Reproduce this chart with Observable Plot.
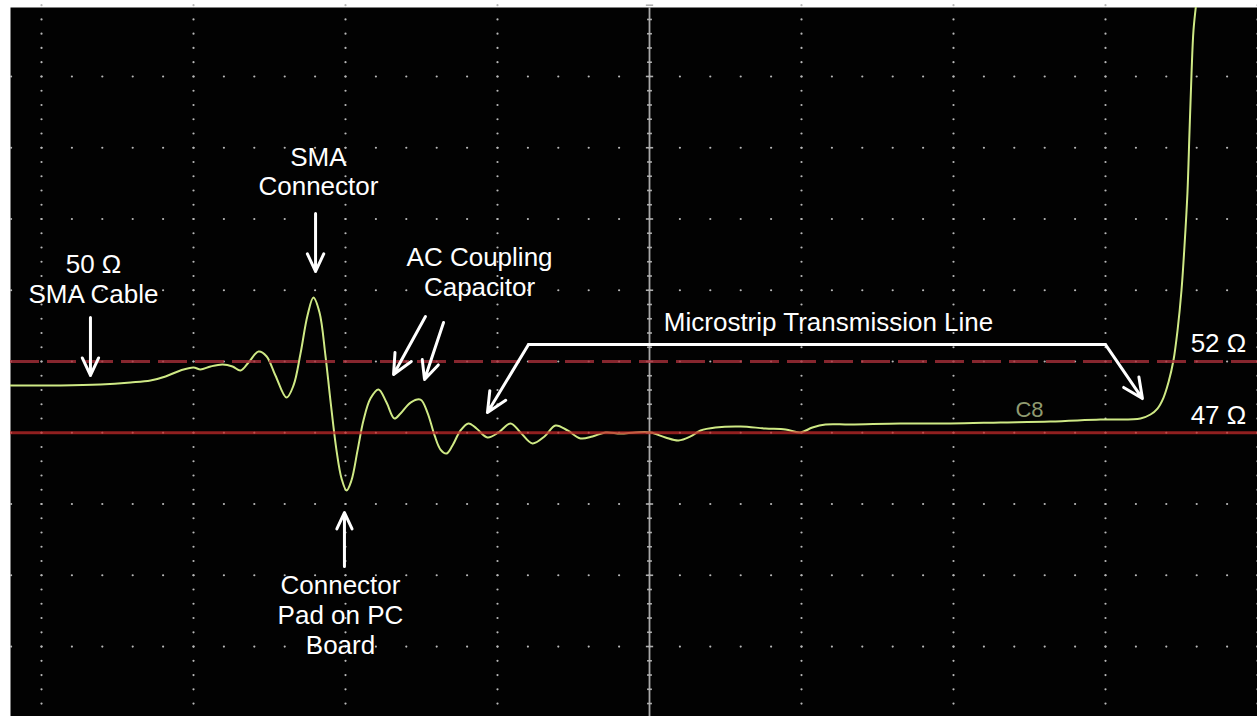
<!DOCTYPE html>
<html><head><meta charset="utf-8">
<script src="https://cdn.jsdelivr.net/npm/d3@7"></script>
<script src="https://cdn.jsdelivr.net/npm/@observablehq/plot@0.6"></script>
<style>html,body{margin:0;padding:0;background:#fff;} #chart svg{display:block;}</style>
</head><body><div id="chart"></div>
<script>
// TDR trace: time in screen divisions (0 = centre graticule), impedance in ohms
const traceTime = [-4.204,-3.875,-3.612,-3.414,-3.283,-3.184,-3.086,-3.0,-2.954,-2.888,-2.809,-2.743,-2.691,-2.638,-2.572,-2.520,-2.461,-2.388,-2.342,-2.296,-2.250,-2.211,-2.171,-2.132,-2.099,-2.059,-2.026,-1.993,-1.961,-1.921,-1.882,-1.836,-1.783,-1.730,-1.678,-1.638,-1.572,-1.507,-1.461,-1.414,-1.375,-1.336,-1.296,-1.243,-1.191,-1.138,-1.066,-0.993,-0.914,-0.849,-0.770,-0.691,-0.618,-0.539,-0.454,-0.375,-0.289,-0.191,-0.092,0.007,0.105,0.191,0.270,0.336,0.434,0.599,0.763,0.895,0.993,1.072,1.158,1.322,1.651,1.980,2.309,2.638,2.967,3.230,3.296,3.342,3.382,3.414,3.447,3.474,3.500,3.520,3.539,3.553,3.566,3.579,3.599];
const traceOhms = [50.32,50.32,50.39,50.53,50.67,50.95,51.37,51.58,51.44,51.65,51.79,51.65,51.37,51.93,52.70,52.37,51.02,49.47,50.32,52.56,55.23,56.49,55.44,52.42,49.26,45.75,43.79,42.95,43.65,45.75,47.86,49.40,50.04,49.12,48.00,48.35,49.12,49.33,48.42,46.81,45.82,45.54,46.11,47.16,47.65,47.30,46.67,47.02,47.65,47.02,46.25,46.74,47.51,47.16,46.60,46.74,47.02,46.95,47.02,47.02,46.67,46.46,46.74,47.16,47.37,47.44,47.30,47.23,47.02,47.37,47.58,47.58,47.65,47.65,47.72,47.79,47.93,48.00,48.28,48.70,49.47,50.53,52.07,54.19,57.00,60.16,63.81,68.23,72.23,75.25,77.3];

const cursorUpper = 52;   // dashed cursor
const cursorLower = 47;   // solid cursor

// annotation labels (anchored at baseline of last line, centred)
const labelText = ["SMA\nConnector", "50 Ω\nSMA Cable", "AC Coupling\nCapacitor", "Microstrip Transmission Line", "52 Ω", "47 Ω", "Connector\nPad on PC\nBoard"];
const labelTime = [-2.178, -3.658, -1.118, 1.178, 3.743, 3.743, -2.033];
const labelOhms = [63.65, 56.14, 56.63, 54.11, 52.70, 47.58, 31.51];

// arrows: start -> tip
const arrowT1 = [-2.197, -3.678, -1.474, -1.355, -2.007, -0.796, 3.000];
const arrowO1 = [62.39, 55.09, 55.16, 54.74, 37.61, 53.19, 53.19];
const arrowT2 = [-2.197, -3.678, -1.684, -1.480, -2.007, -1.066, 3.243];
const arrowO2 = [58.32, 51.02, 51.09, 50.74, 41.40, 48.42, 49.40];

// bracket bar over the microstrip section
const bracketTime = [-0.796, 3.000];
const bracketOhms = 53.19;

const channelLabel = "C8";
const channelTime = 2.50, channelOhms = 48.14;

const trace = traceTime.map((t, i) => ({t, z: traceOhms[i]}));
const labels = labelText.map((s, i) => ({s, t: labelTime[i], z: labelOhms[i]}));
const arrows = arrowT1.map((t, i) => ({t1: t, z1: arrowO1[i], t2: arrowT2[i], z2: arrowO2[i]}));

// graticule
const majorRows = d3.range(32, 73, 5);
const majorCols = d3.range(-4, 5);
const rowDots = majorRows.flatMap(z => d3.range(-21, 21).map(k => ({t: k / 5, z})));
const colDots = majorCols.filter(c => c !== 0).flatMap(t => d3.range(27, 78).map(z => ({t, z})));
const centreTicks = d3.range(27, 78).map(z => ({z, w: (z - 2) % 5 === 0 ? 0.024 : 0.016}));

const font = "'Liberation Sans', Arial, Helvetica, sans-serif";

const chart = Plot.plot({
  width: 1257, height: 716,
  marginLeft: 10, marginRight: 0, marginTop: 7, marginBottom: 0,
  x: {domain: [-4.204, 4.0], axis: null},
  y: {domain: [27.09, 76.84], axis: null},
  style: {background: "#fff", fontFamily: font},
  marks: [
    Plot.frame({fill: "#020202", stroke: "none"}),
    Plot.dot(rowDots, {x: "t", y: "z", r: 1.1, fill: "#b8b8b8", stroke: "none"}),
    Plot.dot(colDots, {x: "t", y: "z", r: 1.1, fill: "#b8b8b8", stroke: "none"}),
    Plot.ruleX([0], {stroke: "#a8a8a8", strokeWidth: 1.8}),
    Plot.link(centreTicks, {x1: d => -d.w, x2: d => d.w, y1: "z", y2: "z", stroke: "#b0b0b0", strokeWidth: 1.6}),
    Plot.line(trace, {x: "t", y: "z", curve: "catmull-rom", stroke: "#cfe985", strokeWidth: 2, clip: true}),
    Plot.ruleY([cursorUpper], {stroke: "#a8303a", strokeWidth: 3, strokeDasharray: "29,8", strokeOpacity: 0.8}),
    Plot.ruleY([cursorLower], {stroke: "#c02a2a", strokeWidth: 3, strokeOpacity: 0.75}),
    Plot.text([channelLabel], {x: () => channelTime, y: () => channelOhms, text: d => d, lineAnchor: "bottom", fontSize: 22, fill: "#8f9a70", fontFamily: font}),
    Plot.line(bracketTime, {x: d => d, y: () => bracketOhms, stroke: "#fff", strokeWidth: 3}),
    Plot.arrow(arrows, {x1: "t1", y1: "z1", x2: "t2", y2: "z2", stroke: "#fff", strokeWidth: 3, headLength: 11, headAngle: 50}),
    Plot.text(labels, {x: "t", y: "z", text: "s", lineAnchor: "bottom", lineHeight: 1.15, fontSize: 26, fill: "#fff", textAnchor: "middle", fontFamily: font})
  ]
});
document.getElementById("chart").append(chart);
</script>
</body></html>
